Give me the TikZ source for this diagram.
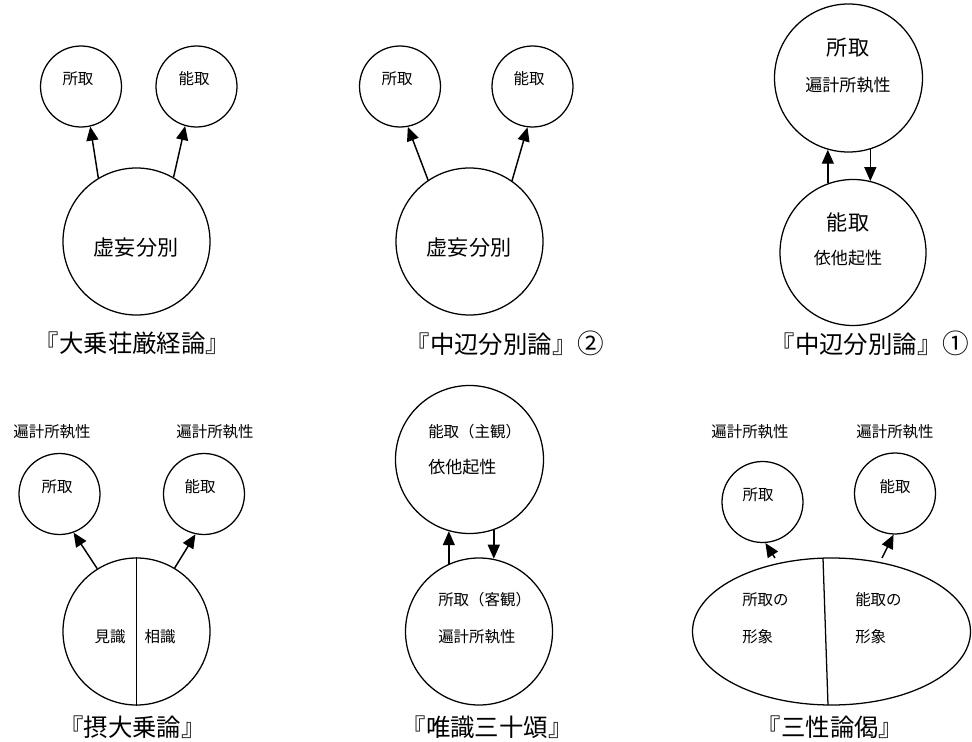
\documentclass[tikz,border=0pt]{standalone}
\usepackage{fontspec}
\setmainfont{Noto Sans CJK JP}
\usetikzlibrary{arrows.meta,shapes.geometric}
\tikzset{
  ring/.style={circle,draw,line width=0.95pt,inner sep=0pt},
  smallring/.style={ring,minimum size=60.75pt},
  bigring/.style={ring,minimum size=110.25pt},
  arr/.style={line width=1.1pt,-{Triangle[length=10.5pt,width=9pt]}},
  divider/.style={line width=0.95pt},
  txs/.style={inner sep=0pt,font=\fontsize{11.6pt}{13pt}\selectfont},
  txm/.style={inner sep=0pt,font=\fontsize{12.8pt}{14pt}\selectfont},
  txl/.style={inner sep=0pt,font=\fontsize{15.8pt}{17pt}\selectfont},
  ttl/.style={inner sep=0pt,font=\fontsize{18.3pt}{20pt}\selectfont}
}
\begin{document}
\begin{tikzpicture}[x=0.75pt,y=-0.75pt]
\useasboundingbox (0,0) rectangle (972,742);
% ---------- Panel 1
\node[smallring] (c1a) at (81,86.5) {};
\node[smallring] (c1b) at (196.5,86.5) {};
\node[bigring] (c1c) at (136.5,241.5) {};
\node[txs] (t1a) at (78,79) {所取};
\node[txs] (t1b) at (194,79) {能取};
\node[txl] (t1c) at (136,248) {虚妄分別};
\node[ttl] (ti1) at (132.5,343) {『大乗荘厳経論』};
\draw[arr] (c1c.121) -- (c1a.-77);
\draw[arr] (c1c.60) -- (c1b.-106);
% ---------- Panel 2
\node[smallring] (c2a) at (400,86.5) {};
\node[smallring] (c2b) at (532.5,86.5) {};
\node[bigring] (c2c) at (469.5,241.5) {};
\node[txs] (t2a) at (397,79) {所取};
\node[txs] (t2b) at (529,79) {能取};
\node[txl] (t2c) at (469,248) {虚妄分別};
\node[ttl] (ti2) at (505,343) {『中辺分別論』\hspace{1pt}{\fontsize{20pt}{20pt}\selectfont ②}};
\draw[arr] (c2c.124) -- (c2a.-79);
\draw[arr] (c2c.55) -- (c2b.-97);
% ---------- Panel 3
\node[ring,minimum size=111pt] (t3) at (848.5,78) {};
\node[ring,minimum size=109.5pt] (b3) at (853,252.5) {};
\node[txl] (t3a) at (848,48) {所取};
\node[txm] (t3b) at (848,85) {遍計所執性};
\node[txl] (b3a) at (848,222) {能取};
\node[txm] (b3b) at (848,258) {依他起性};
\node[ttl] (ti3) at (870,343) {『中辺分別論』\hspace{1pt}{\fontsize{20pt}{20pt}\selectfont ①}};
\draw[arr] (b3.110) -- (b3.110 |- t3.-106);
\draw[arr] (t3.-73) -- (t3.-73 |- b3.76);
% ---------- Panel 4
\node[txs] (l4a) at (52,432) {遍計所執性};
\node[txs] (l4b) at (215,432) {遍計所執性};
\node[smallring] (c4a) at (59.5,494) {};
\node[smallring] (c4b) at (204,494) {};
\node[bigring] (c4c) at (136.5,631.5) {};
\node[txs] (t4a) at (57,487) {所取};
\node[txs] (t4b) at (200,487) {能取};
\node[txs] (t4c) at (110,637) {見識};
\node[txs] (t4d) at (160,637) {相識};
\draw[divider] (c4c.north) -- (c4c.south);
\node[ttl] (ti4) at (132.5,727) {『摂大乗論』};
\draw[arr] (c4c.122) -- (c4a.-70);
\draw[arr] (c4c.59) -- (c4b.-102);
% ---------- Panel 5
\node[ring,minimum size=111pt] (t5) at (469.5,459.5) {};
\node[ring,minimum size=110.25pt] (b5) at (479,631.5) {};
\node[txs,anchor=west] (t5a) at (428,432) {能取（主観）};
\node[txm,anchor=west] (t5b) at (428,467) {依他起性};
\node[txs,anchor=west] (b5a) at (438,600) {所取（客観）};
\node[txs,anchor=west] (b5b) at (438,637) {遍計所執性};
\node[ttl] (ti5) at (487,727) {『唯識三十頌』};
\draw[arr] (b5.114) -- (b5.114 |- t5.-106);
\draw[arr] (t5.-71.5) -- (t5.-71.5 |- b5.79);
% ---------- Panel 6
\node[txs] (l6a) at (750,432) {遍計所執性};
\node[txs] (l6b) at (895,432) {遍計所執性};
\node[smallring] (c6a) at (762.5,502) {};
\node[smallring] (c6b) at (895,493.5) {};
\node[txs] (t6a) at (758,495) {所取};
\node[txs] (t6b) at (895,487) {能取};
\node[ellipse,draw,line width=0.95pt,inner sep=0pt,minimum width=208.5pt,minimum height=110.25pt] (e6) at (831.5,631.5) {};
\coordinate (d6t) at (823,558);
\coordinate (d6b) at (828,705);
\draw[divider] (d6t) -- (d6b);
\node[txs,anchor=west] (e6a) at (742,600) {所取の};
\node[txs,anchor=west] (e6b) at (742,637) {形象};
\node[txs,anchor=west] (e6c) at (855,600) {能取の};
\node[txs,anchor=west] (e6d) at (855,637) {形象};
\coordinate (a6s) at (775,558);
\coordinate (a6t) at (882,558);
\draw[arr] (a6s) -- (c6a.-86);
\draw[arr] (a6t) -- (c6b.-92);
\node[ttl] (ti6) at (830,727) {『三性論偈』};
\end{tikzpicture}
\end{document}
